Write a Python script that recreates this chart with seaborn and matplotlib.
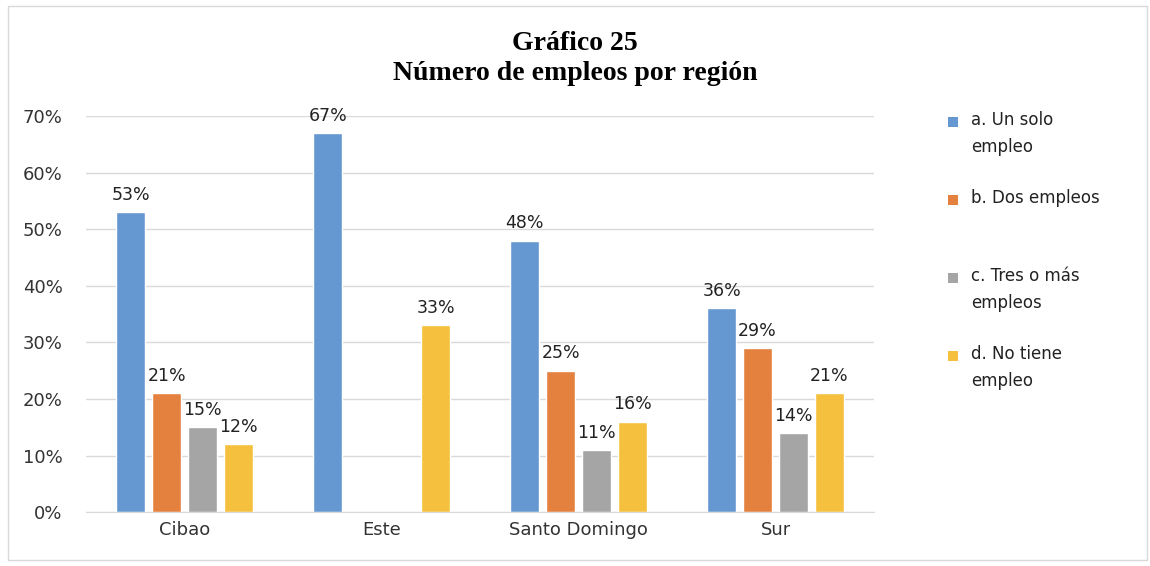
import pandas as pd
import matplotlib.pyplot as plt
import seaborn as sns
from matplotlib.ticker import PercentFormatter
from matplotlib.patches import Rectangle
from matplotlib.legend_handler import HandlerBase

# Data
regions = ['Cibao', 'Este', 'Santo Domingo', 'Sur']
series = ['a. Un solo\nempleo', 'b. Dos empleos\n', 'c. Tres o más\nempleos', 'd. No tiene\nempleo']
un_solo = [53, 67, 48, 36]
dos = [21, 0, 25, 29]
tres_mas = [15, 0, 11, 14]
no_tiene = [12, 33, 16, 21]
colors = ['#6598D1', '#E4813E', '#A5A5A5', '#F4C03E']

rows = []
for name, vals in zip(series, [un_solo, dos, tres_mas, no_tiene]):
    for reg, v in zip(regions, vals):
        rows.append({'Región': reg, 'Serie': name, 'Valor': v})
df = pd.DataFrame(rows)


# legend square aligned with the first text line (Excel style)
class TopSquare(HandlerBase):
    def create_artists(self, legend, orig_handle, xdescent, ydescent,
                       width, height, fontsize, trans):
        s = 0.62 * fontsize
        yc = -ydescent + height / 2 + 0.78 * fontsize
        p = Rectangle((-xdescent, yc - s / 2), s, s,
                      facecolor=orig_handle.get_facecolor(), edgecolor='none',
                      transform=trans)
        return [p]


sns.set_style("white")
plt.rcParams['font.family'] = ['DejaVu Sans']

fig = plt.figure(figsize=(11.5, 5.66), dpi=100)
ax = fig.add_axes([0.075, 0.095, 0.685, 0.70])

sns.barplot(data=df, x='Región', y='Valor', hue='Serie', palette=colors,
            width=0.73, gap=0.2, ax=ax, saturation=1)

for cont in ax.containers:
    labels = [f'{b.get_height():.0f}%' if b.get_height() > 0 else '' for b in cont]
    ax.bar_label(cont, labels=labels, padding=6, fontsize=12.5, color='#222222')

ax.set_ylim(0, 70)
ax.set_yticks(range(0, 71, 10))
ax.yaxis.set_major_formatter(PercentFormatter(decimals=0))
ax.grid(axis='y', color='#d9d9d9', linewidth=1)
ax.set_axisbelow(True)
for s in ['top', 'right', 'left']:
    ax.spines[s].set_visible(False)
ax.spines['bottom'].set_color('#d9d9d9')
ax.tick_params(axis='both', length=0, labelsize=13, colors='#333333')
ax.tick_params(axis='y', pad=17)
ax.tick_params(axis='x', pad=6)
ax.set_xlabel('')
ax.set_ylabel('')

fig.text(0.5, 0.924, 'Gráfico 25', ha='center', va='center', fontsize=20,
         fontweight='bold', family='Liberation Serif', color='black')
fig.text(0.5, 0.871, 'Número de empleos por región', ha='center', va='center',
         fontsize=20, fontweight='bold', family='Liberation Serif', color='black')

handles, labels = ax.get_legend_handles_labels()
leg = ax.legend(handles, labels, loc='upper left', bbox_to_anchor=(1.075, 1.05),
                frameon=False, fontsize=12, labelspacing=1.97, handlelength=0.8,
                handleheight=0.8, handletextpad=0.6,
                handler_map={h: TopSquare() for h in handles})
for t in leg.get_texts():
    t.set_linespacing(1.65)
    t.set_color('#222222')

fig.patches.append(Rectangle((0.007, 0.01), 0.99, 0.98, transform=fig.transFigure,
                             fill=False, edgecolor='#d9d9d9', linewidth=1))

fig.savefig('out.png', dpi=100)
